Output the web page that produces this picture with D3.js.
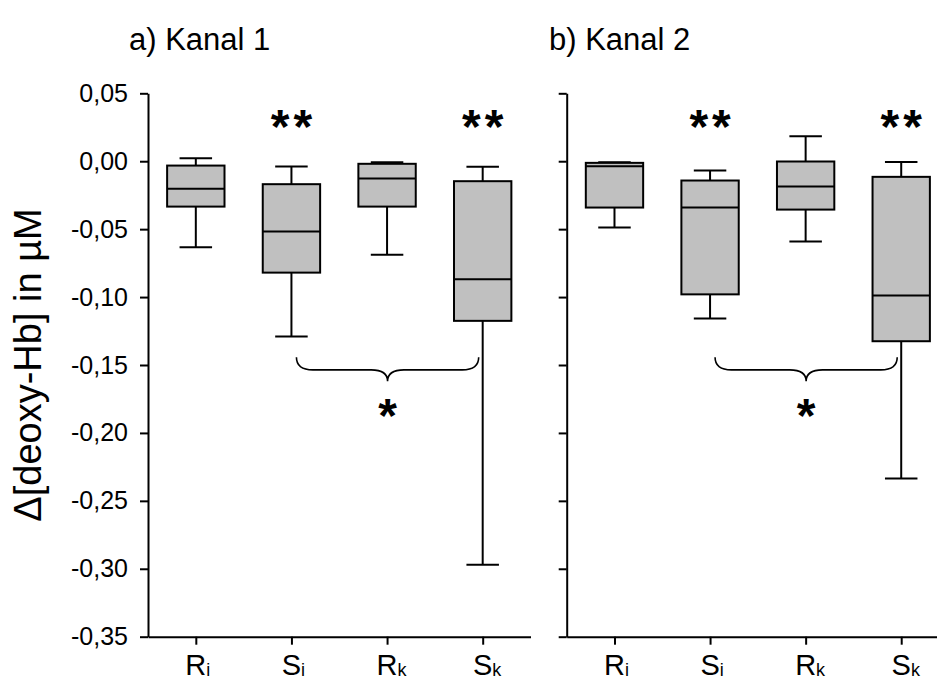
<!DOCTYPE html>
<html>
<head>
<meta charset="utf-8">
<script src="https://cdn.jsdelivr.net/npm/d3@7/dist/d3.min.js"></script>
<style>
  html, body { margin: 0; padding: 0; background: #fff; }
  svg { display: block; }
  text { font-family: "Liberation Sans", Arial, sans-serif; fill: #000; }
</style>
</head>
<body>
<svg id="chart" width="937" height="681"></svg>
<script>
// Groups along the x axis: letter plus subscript
const categories = ["Ri", "Si", "Rk", "Sk"];
const catLetters = ["R", "S", "R", "S"];
const catSubs = ["i", "i", "k", "k"];

// Panel titles
const panelTitles = ["a) Kanal 1", "b) Kanal 2"];

// Box statistics, Kanal 1 (µM)
const kanal1Min    = [-0.0633, -0.1290, -0.0689, -0.2970];
const kanal1Q1     = [-0.0334, -0.0820, -0.0334, -0.1175];
const kanal1Median = [-0.0203, -0.0518, -0.0127, -0.0869];
const kanal1Q3     = [-0.0032, -0.0169, -0.0019, -0.0147];
const kanal1Max    = [ 0.0022, -0.0039, -0.0007, -0.0041];

// Box statistics, Kanal 2 (µM)
const kanal2Min    = [-0.0488, -0.1158, -0.0591, -0.2336];
const kanal2Q1     = [-0.0341, -0.0980, -0.0356, -0.1325];
const kanal2Median = [-0.0037, -0.0341, -0.0186, -0.0989];
const kanal2Q3     = [-0.0012, -0.0142, -0.0002, -0.0115];
const kanal2Max    = [-0.0007, -0.0068,  0.0184, -0.0005];

// Significance marks above single groups and between groups
const starGroups = ["Si", "Sk"];
const starLabel = "**";
const bracePair = ["Si", "Sk"];
const braceLabel = "*";

// y axis ticks
const yTickValues = [0.05, 0.00, -0.05, -0.10, -0.15, -0.20, -0.25, -0.30, -0.35];
const yTitle = "Δ[deoxy-Hb] in µM";

const panels = [
  { title: panelTitles[0], min: kanal1Min, q1: kanal1Q1, med: kanal1Median, q3: kanal1Q3, max: kanal1Max,
    x0: 148, x1: 530.5, titleX: 129, showLabels: true },
  { title: panelTitles[1], min: kanal2Min, q1: kanal2Q1, med: kanal2Median, q3: kanal2Q3, max: kanal2Max,
    x0: 566.7, x1: 949, titleX: 549, showLabels: false }
];

const svg = d3.select("#chart");
const y = d3.scaleLinear().domain([-0.35, 0.05]).range([636.7, 93.3]);
const locale = d3.formatLocale({ decimal: ",", thousands: ".", grouping: [3], currency: ["", ""], minus: "-" });
const fmt = locale.format(".2f");

const fill = "#c0c0c0";
const sw = 2;

panels.forEach(p => {
  const x = d3.scalePoint().domain(categories).range([p.x0, p.x1]).padding(0.5);
  const step = x.step();
  const boxW = step * 0.6;
  const capW = step * 0.34;
  const g = svg.append("g");

  // title
  g.append("text").attr("x", p.titleX).attr("y", 50)
    .attr("font-size", 31).text(p.title);

  // y axis
  const yAxis = d3.axisLeft(y).tickValues(yTickValues).tickSize(8).tickSizeOuter(0)
    .tickFormat(p.showLabels ? fmt : () => "");
  const ya = g.append("g").attr("transform", `translate(${p.x0},0)`).call(yAxis);
  ya.select(".domain").attr("stroke", "#000").attr("stroke-width", sw);
  ya.selectAll(".tick line").attr("stroke", "#000").attr("stroke-width", sw);
  ya.selectAll(".tick text").attr("font-size", 25).attr("x", -20)
    .attr("font-family", "'Liberation Sans', Arial, sans-serif").attr("fill", "#000");

  // x axis
  const xAxis = d3.axisBottom(x).tickSize(8).tickSizeOuter(0).tickFormat(() => "");
  const xa = g.append("g").attr("transform", `translate(0,${y(-0.35)})`).call(xAxis);
  xa.select(".domain").attr("stroke", "#000").attr("stroke-width", sw);
  xa.selectAll(".tick line").attr("stroke", "#000").attr("stroke-width", sw);

  // category labels with subscripts
  categories.forEach((c, i) => {
    const t = g.append("text").attr("y", 675).attr("font-size", 29);
    const main = t.append("tspan").text(catLetters[i]);
    t.append("tspan").attr("font-size", 18).attr("dy", 1).text(catSubs[i]);
    const w = main.node().getComputedTextLength();
    t.attr("x", x(c) - w / 2);
  });

  // boxes
  const rows = categories.map((c, i) => ({ c, min: p.min[i], q1: p.q1[i], med: p.med[i], q3: p.q3[i], max: p.max[i] }));
  const bg = g.selectAll("g.box").data(rows).join("g").attr("class", "box");
  // whiskers
  bg.append("line").attr("x1", d => x(d.c)).attr("x2", d => x(d.c))
    .attr("y1", d => y(d.q3)).attr("y2", d => y(d.max)).attr("stroke", "#000").attr("stroke-width", sw);
  bg.append("line").attr("x1", d => x(d.c)).attr("x2", d => x(d.c))
    .attr("y1", d => y(d.q1)).attr("y2", d => y(d.min)).attr("stroke", "#000").attr("stroke-width", sw);
  bg.append("line").attr("x1", d => x(d.c) - capW / 2).attr("x2", d => x(d.c) + capW / 2)
    .attr("y1", d => y(d.max)).attr("y2", d => y(d.max)).attr("stroke", "#000").attr("stroke-width", sw);
  bg.append("line").attr("x1", d => x(d.c) - capW / 2).attr("x2", d => x(d.c) + capW / 2)
    .attr("y1", d => y(d.min)).attr("y2", d => y(d.min)).attr("stroke", "#000").attr("stroke-width", sw);
  // box body
  bg.append("rect").attr("x", d => x(d.c) - boxW / 2).attr("width", boxW)
    .attr("y", d => y(d.q3)).attr("height", d => y(d.q1) - y(d.q3))
    .attr("fill", fill).attr("stroke", "#000").attr("stroke-width", sw);
  // median
  bg.append("line").attr("x1", d => x(d.c) - boxW / 2).attr("x2", d => x(d.c) + boxW / 2)
    .attr("y1", d => y(d.med)).attr("y2", d => y(d.med)).attr("stroke", "#000").attr("stroke-width", sw);

  // stars above groups
  starGroups.forEach(c => {
    g.append("text").attr("x", x(c) + 2).attr("y", 143).attr("text-anchor", "middle")
      .attr("font-size", 48).attr("font-weight", "bold").attr("letter-spacing", 4).text(starLabel);
  });

  // horizontal curly brace between two groups, tip pointing down
  const bx0 = x(bracePair[0]) + 5, bx1 = x(bracePair[1]) - 4;
  const bm = (bx0 + bx1) / 2;
  const yTop = y(-0.1443), yLine = y(-0.1536), yTip = y(-0.162);
  const r = yLine - yTop;
  const path = d3.path();
  path.moveTo(bx0, yTop);
  path.quadraticCurveTo(bx0, yLine, bx0 + r * 1.3, yLine);
  path.lineTo(bm - r * 1.3, yLine);
  path.quadraticCurveTo(bm, yLine, bm, yTip);
  path.quadraticCurveTo(bm, yLine, bm + r * 1.3, yLine);
  path.lineTo(bx1 - r * 1.3, yLine);
  path.quadraticCurveTo(bx1, yLine, bx1, yTop);
  g.append("path").attr("d", path.toString()).attr("fill", "none")
    .attr("stroke", "#000").attr("stroke-width", 1.6);
  g.append("text").attr("x", bm).attr("y", 432).attr("text-anchor", "middle")
    .attr("font-size", 48).attr("font-weight", "bold").text(braceLabel);
});

// y axis title
svg.append("text").attr("transform", "translate(41,365) rotate(-90)")
  .attr("text-anchor", "middle").attr("font-size", 38).text(yTitle);
</script>
</body>
</html>
